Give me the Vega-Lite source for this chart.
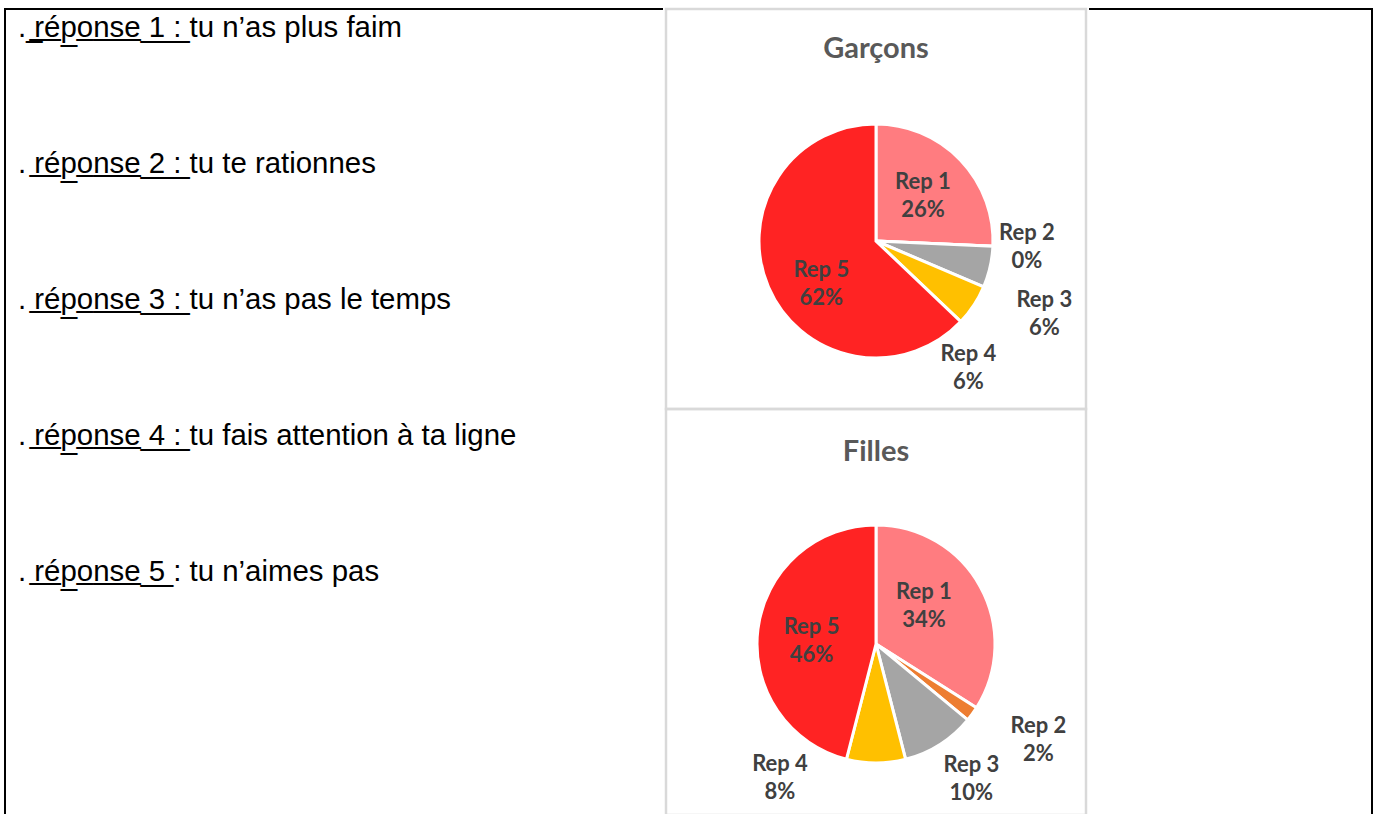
{
  "$schema": "https://vega.github.io/schema/vega-lite/v6.json",
  "padding": {"left": 4, "top": 7, "right": 0, "bottom": 0},
  "background": "white",
  "spacing": 0,
  "bounds": "full",
  "hconcat": [
    {
      "width": 658,
      "height": 806,
      "view": {"stroke": "black", "strokeWidth": 2, "strokeDash": [658, 1464, 806]},
      "data": {"values": [
        {"n": 1, "debut": ". \u0332r\u0332é\u0332p\u0332o\u0332n\u0332s\u0332e\u0332 \u03321\u0332 \u0332:\u0332", "suite": "tu n’as plus faim"},
        {"n": 2, "debut": ". r\u0332é\u0332p\u0332o\u0332n\u0332s\u0332e\u0332 \u03322\u0332 \u0332:\u0332", "suite": "tu te rationnes"},
        {"n": 3, "debut": ". r\u0332é\u0332p\u0332o\u0332n\u0332s\u0332e\u0332 \u03323\u0332 \u0332:\u0332", "suite": "tu n’as pas le temps"},
        {"n": 4, "debut": ". r\u0332é\u0332p\u0332o\u0332n\u0332s\u0332e\u0332 \u03324\u0332 \u0332:\u0332", "suite": "tu fais attention à ta ligne"},
        {"n": 5, "debut": ". r\u0332é\u0332p\u0332o\u0332n\u0332s\u0332e\u0332 \u03325\u0332 :", "suite": "tu n’aimes pas"}
      ]},
      "encoding": {
        "y": {"field": "n", "type": "quantitative", "scale": {"domain": [0.8603, 6.7868], "reverse": true, "nice": false, "zero": false}, "axis": null}
      },
      "layer": [
        {
          "mark": {"type": "text", "align": "left", "baseline": "middle", "font": "Liberation Sans", "fontSize": 29.4, "color": "black"},
          "encoding": {
            "x": {"datum": 0, "type": "quantitative", "scale": {"domain": [-0.02016, 1], "nice": false, "zero": false}, "axis": null},
            "text": {"field": "debut"}
          }
        },
        {
          "mark": {"type": "text", "align": "left", "baseline": "middle", "font": "Liberation Sans", "fontSize": 29.4, "color": "black"},
          "encoding": {
            "x": {"datum": 0.266, "type": "quantitative"},
            "text": {"field": "suite"}
          }
        }
      ]
    },
    {
      "spacing": 0,
      "bounds": "flush",
      "vconcat": [
        {
          "width": 420,
          "height": 64,
          "view": {"stroke": "#D9D9D9", "strokeWidth": 2.5, "strokeDash": [484, 420, 64]},
          "data": {"values": [{"titre": "Garçons"}]},
          "mark": {"type": "text", "font": "Lato", "fontWeight": "bold", "fontSize": 29, "color": "#595959", "dy": 8},
          "encoding": {"text": {"field": "titre"}}
        },
        {
          "width": 420,
          "height": 336,
          "view": {"stroke": "#D9D9D9", "strokeWidth": 2.5, "strokeDash": [0, 420, 1092]},
          "data": {"values": [
            {"rep": "Rep 1", "value": 25.7, "lbl": "Rep 1\n26%"},
            {"rep": "Rep 2", "value": 0, "lbl": "Rep 2\n0%"},
            {"rep": "Rep 3", "value": 5.7, "lbl": "Rep 3\n6%"},
            {"rep": "Rep 4", "value": 5.7, "lbl": "Rep 4\n6%"},
            {"rep": "Rep 5", "value": 62.9, "lbl": "Rep 5\n62%"}
          ]},
          "encoding": {
            "theta": {"field": "value", "type": "quantitative", "stack": true},
            "order": {"field": "rep", "type": "ordinal"}
          },
          "layer": [
            {
              "mark": {"type": "arc", "outerRadius": 117, "stroke": "white", "strokeWidth": 3},
              "encoding": {"color": {"field": "rep", "type": "nominal", "scale": {"domain": ["Rep 1", "Rep 2", "Rep 3", "Rep 4", "Rep 5"], "range": ["#FF7C80", "#ED7D31", "#A5A5A5", "#FFC000", "#FF2323"]}, "legend": null}}
            },
            {
              "mark": {"type": "text", "radius": 65, "dx": 0, "dy": -14, "font": "Lato", "fontWeight": "bold", "fontSize": 22, "color": "#404040", "lineBreak": "\n", "lineHeight": 28},
              "encoding": {"detail": {"field": "rep"}, "text": {"condition": {"test": "datum.rep === 'Rep 1'", "field": "lbl"}, "value": ""}}
            },
            {
              "mark": {"type": "text", "radius": 65, "dx": 5, "dy": 3, "font": "Lato", "fontWeight": "bold", "fontSize": 22, "color": "#404040", "lineBreak": "\n", "lineHeight": 28},
              "encoding": {"detail": {"field": "rep"}, "text": {"condition": {"test": "datum.rep === 'Rep 5'", "field": "lbl"}, "value": ""}}
            },
            {
              "mark": {"type": "text", "radius": 150, "dx": 1, "dy": -15, "font": "Lato", "fontWeight": "bold", "fontSize": 22, "color": "#404040", "lineBreak": "\n", "lineHeight": 28},
              "encoding": {"detail": {"field": "rep"}, "text": {"condition": {"test": "datum.rep === 'Rep 2'", "field": "lbl"}, "value": ""}}
            },
            {
              "mark": {"type": "text", "radius": 150, "dx": 22, "dy": 26, "font": "Lato", "fontWeight": "bold", "fontSize": 22, "color": "#404040", "lineBreak": "\n", "lineHeight": 28},
              "encoding": {"detail": {"field": "rep"}, "text": {"condition": {"test": "datum.rep === 'Rep 3'", "field": "lbl"}, "value": ""}}
            },
            {
              "mark": {"type": "text", "radius": 150, "dx": -33, "dy": 31, "font": "Lato", "fontWeight": "bold", "fontSize": 22, "color": "#404040", "lineBreak": "\n", "lineHeight": 28},
              "encoding": {"detail": {"field": "rep"}, "text": {"condition": {"test": "datum.rep === 'Rep 4'", "field": "lbl"}, "value": ""}}
            }
          ]
        },
        {
          "width": 420,
          "height": 64,
          "view": {"stroke": "#D9D9D9", "strokeWidth": 2.5, "strokeDash": [484, 420, 64]},
          "data": {"values": [{"titre": "Filles"}]},
          "mark": {"type": "text", "font": "Lato", "fontWeight": "bold", "fontSize": 29, "color": "#595959", "dy": 11},
          "encoding": {"text": {"field": "titre"}}
        },
        {
          "width": 420,
          "height": 342,
          "view": {"stroke": "#D9D9D9", "strokeWidth": 2.5, "strokeDash": [0, 420, 1104]},
          "data": {"values": [
            {"rep": "Rep 1", "value": 34, "lbl": "Rep 1\n34%"},
            {"rep": "Rep 2", "value": 2, "lbl": "Rep 2\n2%"},
            {"rep": "Rep 3", "value": 10, "lbl": "Rep 3\n10%"},
            {"rep": "Rep 4", "value": 8, "lbl": "Rep 4\n8%"},
            {"rep": "Rep 5", "value": 46, "lbl": "Rep 5\n46%"}
          ]},
          "encoding": {
            "theta": {"field": "value", "type": "quantitative", "stack": true},
            "order": {"field": "rep", "type": "ordinal"}
          },
          "layer": [
            {
              "mark": {"type": "arc", "outerRadius": 119, "stroke": "white", "strokeWidth": 3},
              "encoding": {"color": {"field": "rep", "type": "nominal", "scale": {"domain": ["Rep 1", "Rep 2", "Rep 3", "Rep 4", "Rep 5"], "range": ["#FF7C80", "#ED7D31", "#A5A5A5", "#FFC000", "#FF2323"]}, "legend": null}}
            },
            {
              "mark": {"type": "text", "radius": 65, "dx": -9, "dy": -21, "font": "Lato", "fontWeight": "bold", "fontSize": 22, "color": "#404040", "lineBreak": "\n", "lineHeight": 28},
              "encoding": {"detail": {"field": "rep"}, "text": {"condition": {"test": "datum.rep === 'Rep 1'", "field": "lbl"}, "value": ""}}
            },
            {
              "mark": {"type": "text", "radius": 65, "dx": 0, "dy": -9, "font": "Lato", "fontWeight": "bold", "fontSize": 22, "color": "#404040", "lineBreak": "\n", "lineHeight": 28},
              "encoding": {"detail": {"field": "rep"}, "text": {"condition": {"test": "datum.rep === 'Rep 5'", "field": "lbl"}, "value": ""}}
            },
            {
              "mark": {"type": "text", "radius": 150, "dx": 41, "dy": -6, "font": "Lato", "fontWeight": "bold", "fontSize": 22, "color": "#404040", "lineBreak": "\n", "lineHeight": 28},
              "encoding": {"detail": {"field": "rep"}, "text": {"condition": {"test": "datum.rep === 'Rep 2'", "field": "lbl"}, "value": ""}}
            },
            {
              "mark": {"type": "text", "radius": 150, "dx": 15, "dy": -6, "font": "Lato", "fontWeight": "bold", "fontSize": 22, "color": "#404040", "lineBreak": "\n", "lineHeight": 28},
              "encoding": {"detail": {"field": "rep"}, "text": {"condition": {"test": "datum.rep === 'Rep 3'", "field": "lbl"}, "value": ""}}
            },
            {
              "mark": {"type": "text", "radius": 100, "dx": -96, "dy": 20, "font": "Lato", "fontWeight": "bold", "fontSize": 22, "color": "#404040", "lineBreak": "\n", "lineHeight": 28},
              "encoding": {"detail": {"field": "rep"}, "text": {"condition": {"test": "datum.rep === 'Rep 4'", "field": "lbl"}, "value": ""}}
            }
          ]
        }
      ]
    },
    {
      "width": 283,
      "height": 806,
      "view": {"stroke": "black", "strokeWidth": 2, "strokeDash": [1089, 1089]},
      "data": {"values": [{"t": ""}]},
      "mark": {"type": "text"},
      "encoding": {"text": {"field": "t"}}
    }
  ]
}
